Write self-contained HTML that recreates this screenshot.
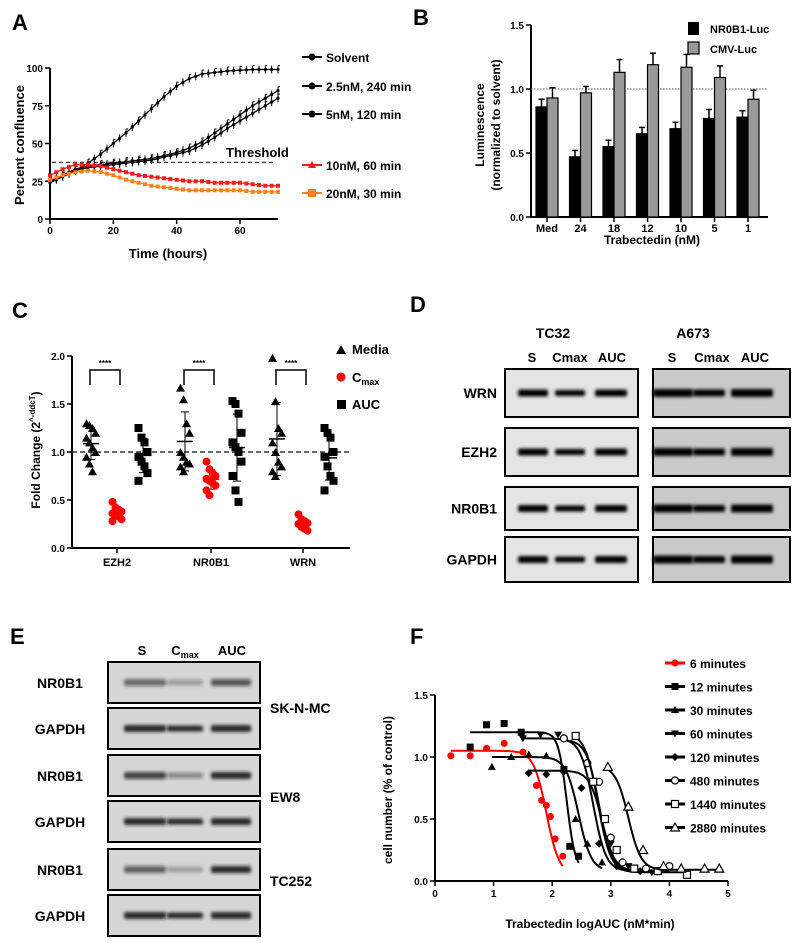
<!DOCTYPE html>
<html><head><meta charset="utf-8"><style>
html,body{margin:0;padding:0;background:#fff}
svg{display:block;font-family:"Liberation Sans",Arial,sans-serif;font-weight:bold}
</style></head><body>
<svg id="fig" width="800" height="943" viewBox="0 0 800 943" xmlns="http://www.w3.org/2000/svg">
<defs>
<filter id="blur" x="-20%" y="-200%" width="140%" height="500%"><feGaussianBlur stdDeviation="1.6"/></filter>
</defs>
<g id="pA"></g>
<g id="pB"></g>
<g id="pC"></g>
<g id="pD"></g>
<g id="pE"></g>
<g id="pF"></g>
</svg>
<script>
// ---------- Panel A data ----------
const aTimes=[0,4,8,12,16,20,24,28,32,36,40,44,48,52,56,60,64,68,72];
const aSolvent=[25,28,32,37,43,50,57,65,73,81,88,93,96,97,98,98.5,99,99,99];
const a25nM=[25,29,33,35,36,37,38,39,40,42,44,47,51,57,63,69,75,80,85];
const a5nM=[24,28,32,34,35,36,37,38,39,41,43,45,49,54,60,65,70,75,80];
const a10nM=[29,33,36,36,35,33,31,29,28,27,26,25,25,24,24,24,23,22,22];
const a20nM=[26,29,31,32,31,29,26,24,22,21,20,19,19,19,19,19,18,18,18];
const aYTicks=[0,25,50,75,100];
const aXTicks=[0,20,40,60];
const aThreshold=37.5;
// ---------- Panel B data ----------
const bCats=["Med","24","18","12","10","5","1"];
const bNR0B1=[0.86,0.47,0.55,0.65,0.69,0.77,0.78];
const bNR0B1Err=[0.06,0.05,0.05,0.05,0.05,0.07,0.05];
const bCMV=[0.93,0.97,1.13,1.19,1.17,1.09,0.92];
const bCMVErr=[0.08,0.05,0.10,0.09,0.10,0.09,0.07];
const bYTicks=[0,0.5,1.0,1.5];
// ---------- Panel C data ----------
const cGenes=["EZH2","NR0B1","WRN"];
const cMedia=[[1.3,1.28,1.25,1.2,1.15,1.1,1.05,1.0,0.95,0.88,0.8],[1.67,1.55,1.3,1.2,1.0,0.95,0.9,0.88,0.85,0.8],[1.98,1.53,1.25,1.2,1.1,1.0,0.9,0.85,0.8,0.75]];
const cCmax=[[0.48,0.42,0.4,0.38,0.36,0.35,0.33,0.3,0.28],[0.9,0.82,0.78,0.75,0.72,0.7,0.68,0.65,0.6,0.55],[0.35,0.3,0.28,0.26,0.25,0.22,0.2,0.18]];
const cAUC=[[1.25,1.15,1.1,1.0,0.95,0.9,0.85,0.78,0.7],[1.53,1.5,1.4,1.2,1.1,1.05,1.0,0.9,0.75,0.6,0.48],[1.25,1.2,1.15,1.0,0.95,0.85,0.75,0.7,0.6]];
const cYTicks=[0,0.5,1.0,1.5,2.0];
// ---------- Panel F data ----------
const fSeries=["6 minutes","12 minutes","30 minutes","60 minutes","120 minutes","480 minutes","1440 minutes","2880 minutes"];
const fX=[[0.27,0.6,0.88,1.18,1.5,1.73,1.82,1.9,1.97,2.05,2.18],[0.6,0.88,1.18,1.47,2.2,2.3,2.45],[0.97,1.3,1.6,1.9,2.4,2.6,2.85],[1.5,1.8,2.1,2.7,3.0,3.3,3.7],[1.6,1.9,2.2,2.5,2.8,3.1,3.5],[2.2,2.6,2.8,3.0,3.2,3.6,4.0],[2.4,2.7,2.9,3.1,3.4,3.8,4.3],[2.95,3.3,3.55,3.9,4.2,4.6,4.85]];
const fY=[[1.01,1.01,1.07,1.11,1.04,0.77,0.65,0.61,0.52,0.34,0.2],[1.08,1.26,1.27,1.2,0.9,0.28,0.2],[0.92,1.0,1.02,1.01,0.5,0.3,0.15],[1.15,1.18,1.18,0.8,0.3,0.12,0.07],[0.87,0.86,0.88,0.75,0.3,0.12,0.08],[1.15,0.95,0.8,0.35,0.15,0.1,0.12],[1.17,0.8,0.5,0.25,0.1,0.08,0.05],[0.92,0.6,0.25,0.12,0.1,0.1,0.1]];
const fTop=[1.05,1.2,1.0,1.15,0.89,1.14,1.19,0.93];
const fBottom=[0.05,0.08,0.08,0.08,0.08,0.08,0.07,0.09];
const fIC50=[1.9,2.25,2.45,2.7,2.85,2.8,2.78,3.3];
const fHill=[4,6,4,4,4,4,4,4];
const fXTicks=[0,1,2,3,4,5];
const fYTicks=[0,0.5,1.0,1.5];

const NS="http://www.w3.org/2000/svg";
function mk(parent,tag,attrs,txt){const e=document.createElementNS(NS,tag);for(const k in attrs)e.setAttribute(k,attrs[k]);if(txt!==undefined)e.textContent=txt;parent.appendChild(e);return e;}

// ================= Panel A =================
(function(){
const g=document.getElementById('pA');
const X=t=>50+t*(228/72), Y=v=>219-v*1.51;
let t=mk(g,'text',{x:12,y:30,'font-size':22},'A');

let ax=mk(g,'path',{d:`M50,${Y(100)} V219 H278`,stroke:'#000','stroke-width':2,fill:'none'});

aYTicks.forEach(v=>{mk(g,'line',{x1:45,x2:50,y1:Y(v),y2:Y(v),stroke:'#000','stroke-width':1.5});
 let l=mk(g,'text',{x:43,y:Y(v)+4,'font-size':10,'text-anchor':'end'},v);});
aXTicks.forEach(v=>{mk(g,'line',{x1:X(v),x2:X(v),y1:219,y2:224,stroke:'#000','stroke-width':1.5});
 let l=mk(g,'text',{x:X(v),y:234,'font-size':10,'text-anchor':'middle'},v);});
let xt=mk(g,'text',{x:168,y:258,'font-size':13,'text-anchor':'middle'},'Time (hours)');
let yt=mk(g,'text',{x:0,y:0,'font-size':13,'text-anchor':'middle',transform:`translate(24,145) rotate(-90)`},'Percent confluence');
let th=mk(g,'line',{x1:52,x2:276,y1:Y(aThreshold),y2:Y(aThreshold),stroke:'#333','stroke-width':1.2,'stroke-dasharray':'4,3'});
let tl=mk(g,'text',{x:226,y:157,'font-size':13},'Threshold');
const series=[[aSolvent,'#000','Solvent',57],[a25nM,'#000','2.5nM, 240 min',86],[a5nM,'#000','5nM, 120 min',114],[a10nM,'#ff1a1a','10nM, 60 min',165],[a20nM,'#ff8020','20nM, 30 min',193]];
series.forEach((s,i)=>{
 const [d,c,name,ly]=s;
 const pts=d.map((v,j)=>`${X(aTimes[j])},${Y(v)}`).join(' ');
 let pl=mk(g,'polyline',{points:pts,fill:'none',stroke:c,'stroke-width':1.3});
 
 d.forEach((v,j)=>{const x=X(aTimes[j]),y=Y(v);
   if(i<3){mk(g,'line',{x1:x,x2:x,y1:y-4,y2:y+4,stroke:c,'stroke-width':1});mk(g,'line',{x1:x,x2:x+2,y1:y-4,y2:y-4,stroke:c,'stroke-width':1});}
   if(i>=3) mk(g,'rect',{x:x-2,y:y-2,width:4,height:4,fill:c});
   else mk(g,'circle',{cx:x,cy:y,r:1.6,fill:c});
   if(j<18){const x2=X(aTimes[j]+2),y2=Y((v+d[j+1])/2);
     if(i>=3) mk(g,'rect',{x:x2-2,y:y2-2,width:4,height:4,fill:c});
     else {mk(g,'circle',{cx:x2,cy:y2,r:1.6,fill:c});mk(g,'line',{x1:x2,x2:x2,y1:y2-4,y2:y2+4,stroke:c,'stroke-width':1});}}
 });
 mk(g,'line',{x1:302,x2:322,y1:ly,y2:ly,stroke:c,'stroke-width':2});
 if(i===3) mk(g,'path',{d:`M312,${ly-4} l4,7 h-8z`,fill:c}); else if(i===4) mk(g,'rect',{x:308,y:ly-4,width:8,height:8,fill:c}); else mk(g,'circle',{cx:312,cy:ly,r:3.5,fill:c});
 let lt=mk(g,'text',{x:326,y:ly+5,'font-size':12},name);
});
})();

// ================= Panel B =================
(function(){
const g=document.getElementById('pB');
const Y=v=>217-v*128;
let t=mk(g,'text',{x:413,y:25,'font-size':22},'B');
let ax=mk(g,'path',{d:`M531,${Y(1.5)} V217 H768`,stroke:'#000','stroke-width':2,fill:'none'});
bYTicks.forEach(v=>{mk(g,'line',{x1:526,x2:531,y1:Y(v),y2:Y(v),stroke:'#000','stroke-width':1.5});
 let l=mk(g,'text',{x:524,y:Y(v)+4,'font-size':10,'text-anchor':'end'},v.toFixed(1));});
let dl=mk(g,'line',{x1:531,x2:768,y1:Y(1),y2:Y(1),stroke:'#555','stroke-width':1,'stroke-dasharray':'1.5,1.5'});
bCats.forEach((c,i)=>{
 const x0=536+i*33.5;
 [[bNR0B1,bNR0B1Err,'#000'],[bCMV,bCMVErr,'#999']].forEach((s,k)=>{
  const v=s[0][i],e=s[1][i],x=x0+k*11;
  mk(g,'line',{x1:x+5.5,x2:x+5.5,y1:Y(v),y2:Y(v+e),stroke:'#000','stroke-width':1.5});
  mk(g,'line',{x1:x+2.5,x2:x+8.5,y1:Y(v+e),y2:Y(v+e),stroke:'#000','stroke-width':1.5});
  let b=mk(g,'rect',{x:x,y:Y(v),width:11,height:217-Y(v),fill:s[2],stroke:'#000','stroke-width':1.2});
  
 });
 mk(g,'line',{x1:x0+11,x2:x0+11,y1:217,y2:222,stroke:'#000','stroke-width':1.5});
 let l=mk(g,'text',{x:x0+11,y:232,'font-size':11,'text-anchor':'middle'},c);
});
let xt=mk(g,'text',{x:652,y:244,'font-size':12,'text-anchor':'middle'},'Trabectedin (nM)');
let y1=mk(g,'text',{x:0,y:0,'font-size':12,'text-anchor':'middle',transform:'translate(484,125) rotate(-90)'},'Luminescence');
let y2=mk(g,'text',{x:0,y:0,'font-size':12,'text-anchor':'middle',transform:'translate(500,125) rotate(-90)'},'(normalized to solvent)');
mk(g,'rect',{x:688,y:22,width:11,height:13,fill:'#000'});
let l1=mk(g,'text',{x:710,y:33,'font-size':11},'NR0B1-Luc');
mk(g,'rect',{x:688,y:42,width:11,height:12,fill:'#999',stroke:'#000','stroke-width':1.2});
let l2=mk(g,'text',{x:710,y:53,'font-size':11},'CMV-Luc');
})();

// ================= Panel C =================
(function(){
const g=document.getElementById('pC');
const Y=v=>548-v*96;
let t=mk(g,'text',{x:12,y:318,'font-size':22},'C');
let ax=mk(g,'path',{d:`M72,${Y(2)} V548 H350`,stroke:'#000','stroke-width':2,fill:'none'});
cYTicks.forEach(v=>{mk(g,'line',{x1:67,x2:72,y1:Y(v),y2:Y(v),stroke:'#000','stroke-width':1.5});
 let l=mk(g,'text',{x:65,y:Y(v)+4,'font-size':10,'text-anchor':'end'},v.toFixed(1));});
let dl=mk(g,'line',{x1:72,x2:350,y1:Y(1),y2:Y(1),stroke:'#333','stroke-width':1.5,'stroke-dasharray':'5,3'});
const centers=[117,211,303];
const jit=k=>((k%4)-1.5)*3;
cGenes.forEach((gname,i)=>{
 const c=centers[i];
 let l=mk(g,'text',{x:c,y:566,'font-size':11,'text-anchor':'middle'},gname);
 mk(g,'line',{x1:c,x2:c,y1:548,y2:553,stroke:'#000','stroke-width':1.5});
 [[cMedia[i],-26,'tri','#000'],[cCmax[i],0,'dot','#f00'],[cAUC[i],26,'sq','#000']].forEach(s=>{
  const vals=s[0],cx=c+s[1];
  const mean=vals.reduce((a,b)=>a+b,0)/vals.length;
  const sd=Math.sqrt(vals.reduce((a,b)=>a+(b-mean)*(b-mean),0)/(vals.length-1));
  vals.forEach((v,k)=>{const x=cx+jit(k),y=Y(v);let m;
   if(s[2]==='tri') m=mk(g,'path',{d:`M${x},${y-4} l4.5,8 h-9z`,fill:'#000'});
   else if(s[2]==='dot') m=mk(g,'circle',{cx:x,cy:y,r:4,fill:'#f00'});
   else m=mk(g,'rect',{x:x-4,y:y-4,width:8,height:8,fill:'#000'});
   });
  mk(g,'line',{x1:cx,x2:cx,y1:Y(mean-sd),y2:Y(mean+sd),stroke:s[3],'stroke-width':1});
  mk(g,'line',{x1:cx-8,x2:cx+8,y1:Y(mean),y2:Y(mean),stroke:s[3],'stroke-width':1.5});
  mk(g,'line',{x1:cx-4,x2:cx+4,y1:Y(mean+sd),y2:Y(mean+sd),stroke:s[3],'stroke-width':1});
  mk(g,'line',{x1:cx-4,x2:cx+4,y1:Y(mean-sd),y2:Y(mean-sd),stroke:s[3],'stroke-width':1});
 });
 let br=mk(g,'path',{d:`M${c-27},385 V370 H${c+3} V385`,fill:'none',stroke:'#000','stroke-width':1.5});
 let st=mk(g,'text',{x:c-12,y:366,'font-size':8,'text-anchor':'middle'},'****');
});
let yt=mk(g,'text',{x:0,y:0,'font-size':12,'text-anchor':'middle',transform:'translate(40,450) rotate(-90)'});

yt.innerHTML='Fold Change (2<tspan font-size="8" dy="-5">^-ddcT</tspan><tspan dy="5">)</tspan>';
mk(g,'path',{d:'M341,345 l5,9 h-10z',fill:'#000'});
let l1=mk(g,'text',{x:352,y:354,'font-size':13},'Media');
mk(g,'circle',{cx:341,cy:377,r:4.5,fill:'#f00'});
let l2=mk(g,'text',{x:352,y:382,'font-size':13});l2.innerHTML='C<tspan font-size="9" dy="3">max</tspan>';
mk(g,'rect',{x:337,y:400,width:9,height:9,fill:'#000'});
let l3=mk(g,'text',{x:352,y:409,'font-size':13},'AUC');
})();

// ================= Blots (D, E) =================
function blot(g,x,y,w,h,bg,bands,name){
 const r=mk(g,'rect',{x:x,y:y,width:w,height:h,fill:bg,stroke:'#000','stroke-width':2});
 
 bands.forEach(b=>{mk(g,'rect',{x:b[0]-b[2]/2,y:y+h/2-b[4]/2,width:b[2],height:b[4],rx:2,fill:`rgba(20,20,20,${b[1]})`,filter:'url(#blur)'});});
}
(function(){
const g=document.getElementById('pD');
let t=mk(g,'text',{x:410,y:312,'font-size':22},'D');
[['TC32',553],['A673',693]].forEach(c=>{let l=mk(g,'text',{x:c[1],y:338,'font-size':14,'text-anchor':'middle'},c[0]);});
[['S',532],['Cmax',570],['AUC',612],['S',672],['Cmax',712],['AUC',755]].forEach(c=>{let l=mk(g,'text',{x:c[1],y:362,'font-size':13,'text-anchor':'middle'},c[0]);});
const rows=[['WRN',369,48,[[0.35,0.05,0.35],[0.65,0.4,0.85]]],['EZH2',428,48,[[0.85,0.35,0.9],[0.7,0.45,0.7]]],['NR0B1',487,43,[[0.6,0.35,0.9],[0.65,0.35,0.8]]],['GAPDH',537,45,[[0.85,0.95,0.95],[0.45,0.45,0.45]]]];
rows.forEach(r=>{
 let l=mk(g,'text',{x:497,y:r[1]+r[2]/2+5,'font-size':14,'text-anchor':'end'},r[0]);
 blot(g,505,r[1],133,r[2],'#e4e4e4',[[533,r[3][0],30,0,7],[570,r[3][1],30,0,6],[611,r[3][2],32,0,7]],'d-blot-tc32');
 blot(g,653,r[1],137,r[2],'#c9c9c9',[[673,r[3][0],40,0,8],[709,r[3][1],32,0,7],[752,r[3][2],42,0,8]],'d-blot-a673');
});
})();
(function(){
const g=document.getElementById('pE');
let t=mk(g,'text',{x:10,y:644,'font-size':22},'E');
let s1=mk(g,'text',{x:142,y:655,'font-size':13,'text-anchor':'middle'},'S');
let s2=mk(g,'text',{x:185,y:655,'font-size':13,'text-anchor':'middle'});s2.innerHTML='C<tspan font-size="9" dy="3">max</tspan>';
let s3=mk(g,'text',{x:232,y:655,'font-size':13,'text-anchor':'middle'},'AUC');
const rows=[['NR0B1',662,[0.55,0.3,0.65]],['GAPDH',708,[0.9,0.9,0.9]],['NR0B1',755,[0.75,0.4,0.9]],['GAPDH',801,[0.9,0.9,0.9]],['NR0B1',849,[0.6,0.25,0.9]],['GAPDH',895,[0.9,0.9,0.9]]];
rows.forEach(r=>{
 let l=mk(g,'text',{x:60,y:r[1]+26,'font-size':14,'text-anchor':'middle'},r[0]);
 blot(g,108,r[1],152,41,'#d6d6d6',[[145,r[2][0],42,0,7],[185,r[2][1],36,0,6],[231,r[2][2],40,0,7]],'e-blot');
});
[['SK-N-MC',713],['EW8',802],['TC252',886]].forEach(c=>{let l=mk(g,'text',{x:270,y:c[1],'font-size':14},c[0]);});
})();

// ================= Panel F =================
(function(){
const g=document.getElementById('pF');
const X=v=>435+v*58.6, Y=v=>881-v*124;
let t=mk(g,'text',{x:410,y:644,'font-size':22},'F');
let ax=mk(g,'path',{d:`M435,${Y(1.5)} V881 H${X(5)}`,stroke:'#000','stroke-width':2,fill:'none'});
fYTicks.forEach(v=>{mk(g,'line',{x1:430,x2:435,y1:Y(v),y2:Y(v),stroke:'#000','stroke-width':1.5});
 let l=mk(g,'text',{x:428,y:Y(v)+4,'font-size':10,'text-anchor':'end'},v.toFixed(1));});
fXTicks.forEach(v=>{mk(g,'line',{x1:X(v),x2:X(v),y1:881,y2:886,stroke:'#000','stroke-width':1.5});
 let l=mk(g,'text',{x:X(v),y:897,'font-size':10,'text-anchor':'middle'},v);});
let xt=mk(g,'text',{x:590,y:928,'font-size':12,'text-anchor':'middle'},'Trabectedin logAUC (nM*min)');
let yt=mk(g,'text',{x:0,y:0,'font-size':12,'text-anchor':'middle',transform:'translate(392,790) rotate(-90)'},'cell number (% of control)');
const shapes=['dot','sq','tri','itri','dia','ocirc','osq','otri'];
function marker(sh,x,y,c){
 let m;
 if(sh==='dot') m=mk(g,'circle',{cx:x,cy:y,r:3.5,fill:c});
 else if(sh==='sq') m=mk(g,'rect',{x:x-3.5,y:y-3.5,width:7,height:7,fill:c});
 else if(sh==='tri') m=mk(g,'path',{d:`M${x},${y-4} l4,7 h-8z`,fill:c});
 else if(sh==='itri') m=mk(g,'path',{d:`M${x},${y+4} l4,-7 h-8z`,fill:c});
 else if(sh==='dia') m=mk(g,'path',{d:`M${x},${y-4} l4,4 l-4,4 l-4,-4z`,fill:c});
 else if(sh==='ocirc') m=mk(g,'circle',{cx:x,cy:y,r:3.5,fill:'#fff',stroke:c,'stroke-width':1.2});
 else if(sh==='osq') m=mk(g,'rect',{x:x-3.5,y:y-3.5,width:7,height:7,fill:'#fff',stroke:c,'stroke-width':1.2});
 else m=mk(g,'path',{d:`M${x},${y-4.5} l4.5,8 h-9z`,fill:'#fff',stroke:c,'stroke-width':1.2});
 return m;
}
fSeries.forEach((name,i)=>{
 const c=i===0?'#f00':'#000';
 const xs=fX[i];const x0=xs[0],x1=xs[xs.length-1];
 let d='';for(let k=0;k<=60;k++){const x=x0+(x1-x0)*k/60;const y=fBottom[i]+(fTop[i]-fBottom[i])/(1+Math.pow(10,(x-fIC50[i])*fHill[i]));d+=(k?'L':'M')+X(x).toFixed(1)+','+Y(y).toFixed(1);}
 let p=mk(g,'path',{d:d,fill:'none',stroke:c,'stroke-width':2});
 xs.forEach((x,k)=>{let m=marker(shapes[i],X(x),Y(fY[i][k]),c);});
 const ly=663+i*23.5;
 mk(g,'line',{x1:665,x2:685,y1:ly,y2:ly,stroke:c,'stroke-width':3});
 marker(shapes[i],675,ly,c);
 let lt=mk(g,'text',{x:690,y:ly+5,'font-size':12},name);
});
})();
</script>
</body></html>
